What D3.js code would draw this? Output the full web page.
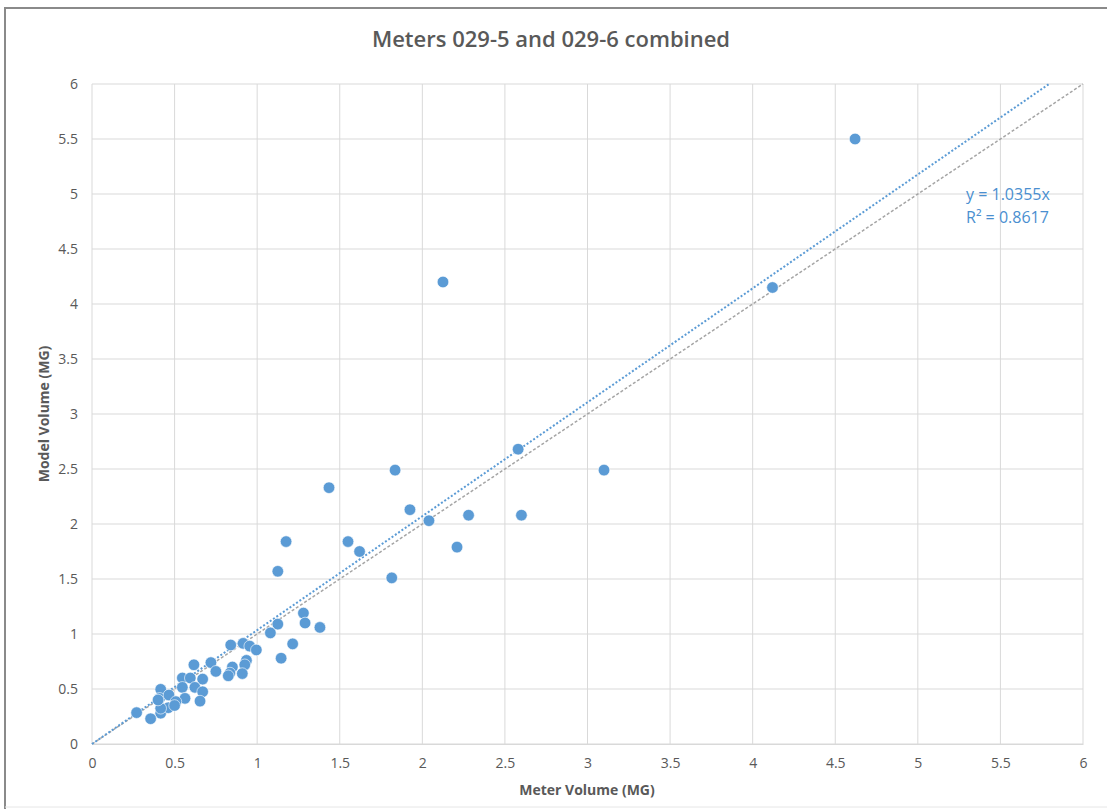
<!DOCTYPE html>
<html><head><meta charset="utf-8">
<script src="https://cdn.jsdelivr.net/npm/d3@7"></script>
<style>body{margin:0;background:#fff}svg{display:block}</style>
</head><body>
<script>
const title = "Meters 029-5 and 029-6 combined";
const xTitle = "Meter Volume (MG)";
const yTitle = "Model Volume (MG)";
const xTicks = [0,0.5,1,1.5,2,2.5,3,3.5,4,4.5,5,5.5,6];
const yTicks = [0,0.5,1,1.5,2,2.5,3,3.5,4,4.5,5,5.5,6];
const meterVolume = [4.62,4.12,2.125,3.10,2.58,2.60,2.28,2.21,2.04,1.925,1.835,1.815,1.62,1.55,1.435,1.175,1.125,1.28,1.29,1.38,1.215,1.145,1.125,1.08,
  0.84,0.915,0.955,0.995,0.935,0.925,0.91,0.85,0.835,0.825,0.72,0.75,0.67,0.617,0.547,0.595,0.547,0.623,0.67,0.654,0.563,
  0.416,0.41,0.416,0.462,0.466,0.508,0.50,0.27,0.355,0.416,0.40];
const modelVolume = [5.50,4.15,4.20,2.49,2.68,2.08,2.08,1.79,2.03,2.13,2.49,1.51,1.75,1.84,2.33,1.84,1.57,1.19,1.10,1.06,0.91,0.78,1.09,1.01,
  0.90,0.915,0.89,0.855,0.76,0.72,0.64,0.70,0.645,0.62,0.74,0.66,0.59,0.72,0.60,0.60,0.515,0.515,0.475,0.39,0.415,
  0.497,0.415,0.28,0.33,0.445,0.385,0.35,0.285,0.23,0.325,0.40];
const slope = 1.0355;
const eqText = "y = 1.0355x";
const r2Text = "R² = 0.8617";

const W = 1107, H = 809;
const m = {l:92, r:1083, t:84, b:744};
const svg = d3.select("body").append("svg").attr("width",W).attr("height",H);
const font = "'Open Sans',sans-serif";

// frame
svg.append("line").attr("x1",5).attr("x2",5).attr("y1",8).attr("y2",H).attr("stroke","#8a8a8a").attr("stroke-width",2);
svg.append("line").attr("x1",4).attr("x2",W).attr("y1",8).attr("y2",8).attr("stroke","#8a8a8a").attr("stroke-width",2);
svg.append("line").attr("x1",5).attr("x2",W).attr("y1",807).attr("y2",807).attr("stroke","#e6e6e6").attr("stroke-width",1);

const x = d3.scaleLinear().domain([0,6]).range([m.l,m.r]);
const y = d3.scaleLinear().domain([0,6]).range([m.b,m.t]);

// grid
const g = svg.append("g");
g.selectAll(".vx").data(xTicks).join("line").attr("x1",d=>x(d)).attr("x2",d=>x(d)).attr("y1",m.t).attr("y2",m.b).attr("stroke","#d9d9d9").attr("stroke-width",1);
g.selectAll(".hy").data(yTicks).join("line").attr("x1",m.l).attr("x2",m.r).attr("y1",d=>y(d)).attr("y2",d=>y(d)).attr("stroke","#d9d9d9").attr("stroke-width",1);

// axes labels
const xAxis = d3.axisBottom(x).tickValues(xTicks).tickSize(0).tickPadding(14).tickFormat(d3.format("~g"));
const gx = svg.append("g").attr("transform",`translate(0,${m.b})`).call(xAxis);
gx.select(".domain").attr("stroke","#d9d9d9");
gx.selectAll("text").attr("font-family",font).attr("font-size",14).attr("fill","#595959");
const yAxis = d3.axisLeft(y).tickValues(yTicks).tickSize(0).tickPadding(14).tickFormat(d3.format("~g"));
const gy = svg.append("g").attr("transform",`translate(${m.l},0)`).call(yAxis);
gy.select(".domain").remove();
gy.selectAll("text").attr("font-family",font).attr("font-size",14).attr("fill","#595959");

// 1:1 line
svg.append("line").attr("x1",x(0)).attr("y1",y(0)).attr("x2",x(6)).attr("y2",y(6))
  .attr("stroke","#a5a5a5").attr("stroke-width",1.5).attr("stroke-dasharray","3,2");
// trendline
const xEnd = 6/slope;
svg.append("line").attr("x1",x(0)).attr("y1",y(0)).attr("x2",x(xEnd)).attr("y2",y(slope*xEnd))
  .attr("stroke","#5b9bd5").attr("stroke-width",2).attr("stroke-dasharray","2,2");

// points
svg.append("g").selectAll("circle").data(meterVolume.map((v,i)=>[v,modelVolume[i]])).join("circle")
  .attr("cx",d=>x(d[0])).attr("cy",d=>y(d[1])).attr("r",5.8).attr("fill","#5b9bd5").attr("stroke","#ffffff").attr("stroke-width",0.6);

// equation
svg.append("text").attr("x",966).attr("y",200).attr("font-family",font).attr("font-size",16).attr("fill","#4a8fd0").text(eqText);
svg.append("text").attr("x",966).attr("y",223).attr("font-family",font).attr("font-size",16).attr("fill","#4a8fd0").text(r2Text);

// titles
svg.append("text").attr("x",551).attr("y",47).attr("text-anchor","middle").attr("font-family",font).attr("font-size",22).attr("font-weight",600).attr("fill","#595959").text(title);
svg.append("text").attr("x",587).attr("y",795).attr("text-anchor","middle").attr("font-family",font).attr("font-size",14).attr("font-weight","bold").attr("fill","#595959").text(xTitle);
svg.append("text").attr("transform","translate(49,414) rotate(-90)").attr("text-anchor","middle").attr("font-family",font).attr("font-size",14).attr("font-weight","bold").attr("fill","#595959").text(yTitle);
</script>
</body></html>
